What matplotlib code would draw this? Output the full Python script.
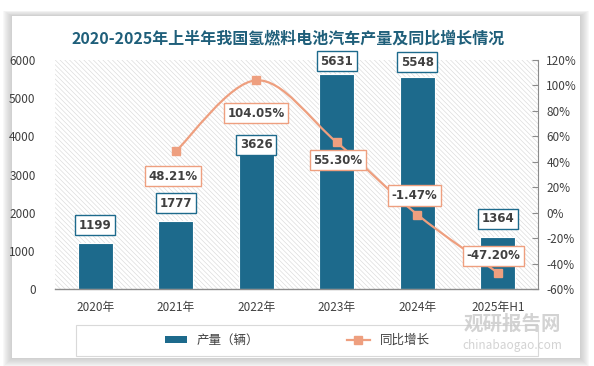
"""2020-2025H1 hydrogen fuel-cell vehicle output and YoY growth (bar + smooth line)."""

import matplotlib
matplotlib.use("Agg")
import matplotlib.pyplot as plt
from matplotlib.patches import Rectangle
from matplotlib.path import Path
from matplotlib.patches import PathPatch
from matplotlib.lines import Line2D
from matplotlib.ticker import FuncFormatter

plt.rcParams["font.family"] = ["Noto Sans CJK SC", "DejaVu Sans"]
plt.rcParams["hatch.linewidth"] = 0.45

years = ["2020年", "2021年", "2022年", "2023年", "2024年", "2025年H1"]
output = [1199, 1777, 3626, 5631, 5548, 1364]
yoy = [None, 48.21, 104.05, 55.30, -1.47, -47.20]

BAR = "#1d6a8c"
LINE = "#ee9f7f"
TXT = "#404040"

# label offsets in pixels (dx, dy)
bar_lbl_off = [(0, 18), (0, 18), (0, 6), (0, 13), (0, 15), (0, 18)]
line_lbl_off = [None, (-3, -25), (0, -33), (1, -18), (-3, 19), (-4, 17)]

W, H = 594, 366
fig = plt.figure(figsize=(W / 100, H / 100), dpi=100)
fig.patch.set_facecolor("white")


def px(x0, y0, x1, y1):
    return (x0 / W, 1 - y1 / H), (x1 - x0) / W, (y1 - y0) / H


# card shadow + card
for i in range(9, 0, -1):
    xy, w, h = px(12 - i, 16 - i * 0.6, 580 + i, 358 + i)
    fig.patches.append(Rectangle(xy, w, h, transform=fig.transFigure,
                                 facecolor="#a8a8a8", alpha=0.07, lw=0, zorder=-5))
xy, w, h = px(12, 16, 580, 358)
fig.patches.append(Rectangle(xy, w, h, transform=fig.transFigure,
                             facecolor="white", lw=0, zorder=-4))

ax = fig.add_axes([55 / W, 1 - 289 / H, 483 / W, 229 / H])
ax.set_facecolor("none")
ax.add_patch(Rectangle((0, 0), 1, 1, transform=ax.transAxes, facecolor="white",
                       edgecolor="#dadada", hatch="\\" * 7, lw=0, zorder=0))

x = list(range(len(years)))
ax.bar(x, output, width=0.43, color=BAR, edgecolor="white", lw=0.8, zorder=2)
ax.set_xlim(-0.5, len(years) - 0.5)
ax.set_ylim(0, 6000)
ax.set_yticks(range(0, 6001, 1000))
ax.set_xticks(x)
ax.set_xticklabels(years)
ax.tick_params(axis="y", length=0, labelsize=8.5, labelcolor=TXT, pad=14)
ax.tick_params(axis="x", length=0, labelsize=8.5, labelcolor=TXT, pad=9)
for s in ["top", "left", "right"]:
    ax.spines[s].set_visible(False)
ax.spines["bottom"].set_color("#8c8c8c")
ax.spines["bottom"].set_linewidth(1.0)

for xi, v, (dx, dy) in zip(x, output, bar_lbl_off):
    ax.annotate(f"{v}", (xi, v), xytext=(dx, dy), textcoords="offset pixels",
                ha="center", va="center", fontsize=8.5, fontweight="bold",
                color=TXT, zorder=6, family=["DejaVu Sans"],
                bbox=dict(boxstyle="square,pad=0.3", facecolor="white",
                          edgecolor=BAR, lw=1.0))

ax2 = ax.twinx()
ax2.set_ylim(-60, 120)
ax2.set_yticks(range(-60, 121, 20))
ax2.yaxis.set_major_formatter(FuncFormatter(lambda v, _: f"{v:.0f}%"))
ax2.tick_params(axis="y", direction="in", length=4, color="#8c8c8c",
                labelsize=8.5, labelcolor=TXT, pad=6)
for s in ["top", "left", "bottom"]:
    ax2.spines[s].set_visible(False)
ax2.spines["right"].set_color("#8c8c8c")

# smooth line (Catmull-Rom through the points, drawn as cubic Bezier)
pts = [(xi, v) for xi, v in zip(x, yoy) if v is not None]
ext = [pts[0]] + pts + [pts[-1]]
verts = [pts[0]]
codes = [Path.MOVETO]
for i in range(1, len(ext) - 2):
    p0, p1, p2, p3 = ext[i - 1], ext[i], ext[i + 1], ext[i + 2]
    c1 = (p1[0] + (p2[0] - p0[0]) / 6, p1[1] + (p2[1] - p0[1]) / 6)
    c2 = (p2[0] - (p3[0] - p1[0]) / 6, p2[1] - (p3[1] - p1[1]) / 6)
    verts += [c1, c2, p2]
    codes += [Path.CURVE4] * 3
ax2.add_patch(PathPatch(Path(verts, codes), facecolor="none", edgecolor=LINE,
                        lw=1.6, zorder=3))
ax2.plot([p[0] for p in pts], [p[1] for p in pts], ls="none", marker="s",
         ms=6, color=LINE, zorder=4)

for xi, v, off in zip(x, yoy, line_lbl_off):
    if v is None:
        continue
    ax2.annotate(f"{v:.2f}%", (xi, v), xytext=off, textcoords="offset pixels",
                 ha="center", va="center", fontsize=8.5, fontweight="bold",
                 color=TXT, zorder=6, family=["DejaVu Sans"],
                 bbox=dict(boxstyle="square,pad=0.3", facecolor="white",
                           edgecolor=LINE, lw=1.0))

fig.text(288 / W, 1 - 38 / H, "2020-2025年上半年我国氢燃料电池汽车产量及同比增长情况",
         ha="center", va="center", fontsize=11.5, fontweight="bold", color="#1f5f7a")

# legend
xy, w, h = px(76, 325, 538, 356)
fig.patches.append(Rectangle(xy, w, h, transform=fig.transFigure,
                             facecolor="none", edgecolor="#d9d9d9", lw=0.8))
handles = [Rectangle((0, 0), 1, 1, facecolor=BAR, edgecolor="none", label="产量（辆）"),
           Line2D([0], [0], color=LINE, lw=1.6, marker="s", ms=6, label="同比增长")]
fig.legend(handles=handles, loc="center", bbox_to_anchor=(297 / W, 1 - 340 / H),
           ncol=2, frameon=False, fontsize=9, columnspacing=7, handlelength=1.8,
           handleheight=0.5, labelcolor=TXT)

# watermark
fig.text(512 / W, 1 - 324 / H, "观研报告网", ha="center", va="center", fontsize=14,
         fontweight="bold", color="#c8c8c8", alpha=0.8)
fig.text(512 / W, 1 - 345 / H, "chinabaogao.com", ha="center", va="center",
         fontsize=8.5, color="#c8c8c8", alpha=0.8)

fig.savefig("out.png", dpi=100, facecolor=fig.get_facecolor())
